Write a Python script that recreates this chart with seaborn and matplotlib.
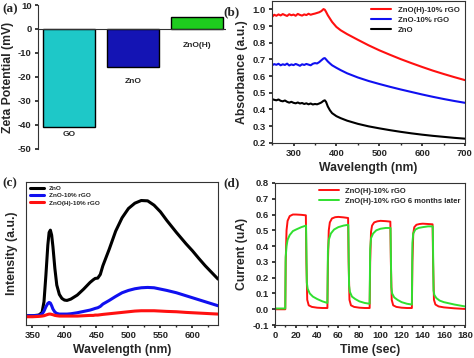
import matplotlib
matplotlib.use("Agg")
import matplotlib.pyplot as plt
import numpy as np
import pandas as pd
import seaborn as sns

# (a) zeta potential
zeta_names = ["GO", "ZnO", "ZnO(H)"]
zeta_values = [-41, -16, 5]
zeta_colors = ["#1EC8C8", "#1414B4", "#1ECC1E"]

# (b) UV-vis absorbance
abs_wl = [250, 255, 260, 265, 270, 275, 280, 285, 290, 295, 300, 305, 310, 315, 320, 325, 330,
          335, 340, 345, 350, 355, 360, 365, 370, 373, 376, 380, 385, 390, 400, 410, 425,
          450, 475, 500, 525, 550, 575, 600, 625, 650, 675, 700]
abs_red = [0.955, 0.968, 0.962, 0.970, 0.964, 0.972, 0.966, 0.961, 0.971, 0.965, 0.969, 0.962, 0.973,
           0.967, 0.963, 0.970, 0.966, 0.974, 0.968, 0.972, 0.975, 0.979, 0.983, 0.990, 1.002,
           0.998, 0.985, 0.965, 0.945, 0.925, 0.895, 0.875, 0.852,
           0.818, 0.785, 0.755, 0.728, 0.702, 0.678, 0.655, 0.633, 0.613, 0.594, 0.576]
abs_blue = [0.665, 0.672, 0.668, 0.674, 0.665, 0.671, 0.667, 0.675, 0.664, 0.670, 0.666, 0.673, 0.668,
            0.662, 0.671, 0.667, 0.673, 0.669, 0.665, 0.674, 0.678, 0.676, 0.684, 0.695, 0.706,
            0.708, 0.700, 0.688, 0.676, 0.665, 0.650, 0.636, 0.617,
            0.592, 0.571, 0.553, 0.536, 0.520, 0.505, 0.490, 0.476, 0.463, 0.451, 0.440]
abs_black = [0.462, 0.458, 0.455, 0.460, 0.452, 0.449, 0.454, 0.446, 0.441, 0.446, 0.440, 0.437, 0.442,
             0.436, 0.439, 0.433, 0.437, 0.431, 0.436, 0.430, 0.433, 0.431, 0.436, 0.442, 0.452,
             0.455, 0.445, 0.418, 0.395, 0.378, 0.360, 0.348, 0.333,
             0.314, 0.299, 0.287, 0.276, 0.266, 0.257, 0.249, 0.242, 0.236, 0.230, 0.225]

# (c) photoluminescence
pl_wl = [340, 350, 360, 365, 368, 371, 374, 376, 378, 380, 382, 385, 388, 392, 396, 400, 404,
         410, 420, 430, 440, 445, 448, 452, 456, 460, 470, 480, 490, 500, 510, 520, 530,
         540, 550, 560, 575, 590, 600, 610, 620, 630, 640]
pl_zno = [28, 28, 30, 38, 70, 150, 240, 278, 285, 270, 235, 170, 120, 92, 80, 75, 74,
          78, 90, 108, 128, 136, 140, 141, 152, 178, 228, 282, 322, 350, 366, 374, 373,
          360, 340, 314, 278, 244, 223, 200, 178, 158, 138]
pl_zno_rgo = [28, 28, 29, 33, 42, 55, 65, 68, 66, 58, 48, 39, 35, 33, 33, 33, 33,
              34, 37, 41, 45, 48, 50, 52, 56, 63, 74, 86, 97, 104, 109, 112, 113,
              112, 108, 104, 97, 88, 82, 76, 70, 64, 58]
pl_znoh_rgo = [25, 25, 26, 27, 28, 30, 32, 33, 33, 32, 31, 29, 28, 27, 27, 27, 27,
               27, 27, 28, 29, 29, 30, 30, 31, 32, 34, 36, 38, 40, 42, 43, 43,
               43, 42, 41, 40, 38, 37, 36, 35, 34, 33]

# (d) photocurrent switching
t_fresh = [0, 9.8, 10.2, 11, 12, 14, 17, 20, 25, 29.3, 29.8, 30.6, 32, 35, 40, 45, 49.7,
           50.2, 51, 52, 54, 57, 60, 65, 69.3, 69.8, 70.6, 72, 75, 80, 85, 89.7,
           90.2, 91, 92, 94, 97, 100, 105, 109.3, 109.8, 110.6, 112, 115, 120, 125, 129.7,
           130.2, 131, 132, 134, 137, 140, 145, 149.3, 149.8, 150.6, 152, 155, 160, 170, 180]
i_fresh = [0.0, 0.0, 0.30, 0.50, 0.56, 0.59, 0.600, 0.600, 0.598, 0.595, 0.30, 0.06, 0.025, 0.015, 0.010, 0.008, 0.008,
           0.30, 0.50, 0.55, 0.575, 0.583, 0.585, 0.582, 0.578, 0.30, 0.06, 0.025, 0.015, 0.010, 0.008, 0.008,
           0.30, 0.49, 0.53, 0.550, 0.557, 0.560, 0.558, 0.555, 0.30, 0.06, 0.025, 0.015, 0.010, 0.008, 0.008,
           0.30, 0.48, 0.52, 0.535, 0.540, 0.542, 0.540, 0.538, 0.30, 0.06, 0.030, 0.018, 0.012, 0.006, 0.002]
t_aged = [0, 9.8, 10.2, 11, 12, 14, 17, 20, 25, 29.5, 30.2, 31, 33, 36, 40, 45, 49.7,
          50.2, 51, 53, 56, 60, 65, 69.5, 70.2, 71, 73, 76, 80, 85, 89.7,
          90.2, 91, 93, 96, 100, 105, 109.5, 110.2, 111, 113, 116, 120, 125, 129.7,
          130.2, 131, 133, 136, 140, 145, 149.5, 150.2, 151, 153, 156, 160, 170, 180]
i_aged = [0.005, 0.005, 0.33, 0.40, 0.44, 0.47, 0.495, 0.505, 0.520, 0.530, 0.17, 0.13, 0.10, 0.08, 0.065, 0.05, 0.040,
          0.37, 0.44, 0.48, 0.505, 0.52, 0.53, 0.535, 0.15, 0.11, 0.08, 0.065, 0.05, 0.04, 0.035,
          0.38, 0.45, 0.48, 0.50, 0.51, 0.515, 0.515, 0.14, 0.10, 0.075, 0.06, 0.045, 0.035, 0.030,
          0.42, 0.48, 0.505, 0.515, 0.52, 0.525, 0.525, 0.12, 0.09, 0.07, 0.055, 0.045, 0.03, 0.018]

sns.set_theme(style="ticks")
plt.rcParams.update({
    "font.family": ["Liberation Sans", "DejaVu Sans"],
    "font.weight": "bold",
    "axes.labelweight": "bold",
    "axes.labelsize": 8.8,
    "xtick.labelsize": 6.8,
    "ytick.labelsize": 6.8,
    "xtick.direction": "out",
    "ytick.direction": "out",
    "xtick.major.size": 2.5,
    "ytick.major.size": 2.5,
    "xtick.minor.size": 1.3,
    "ytick.minor.size": 1.3,
    "xtick.major.pad": 2,
    "ytick.major.pad": 2,
    "axes.linewidth": 0.8,
    "axes.edgecolor": "#333333",
    "axes.unicode_minus": False,
})

fig = plt.figure(figsize=(4.74, 3.58), dpi=100)
ax_a = fig.add_axes([0.080, 0.584, 0.397, 0.402])
ax_b = fig.add_axes([0.574, 0.601, 0.407, 0.396])
ax_c = fig.add_axes([0.055, 0.092, 0.405, 0.400])
ax_d = fig.add_axes([0.580, 0.092, 0.401, 0.397])

panel_font = dict(family="Liberation Serif", fontsize=9.5, fontweight="bold")

# (a)
zeta = pd.DataFrame({"sample": zeta_names, "zeta": zeta_values})
sns.barplot(data=zeta, x="sample", y="zeta", hue="sample", palette=zeta_colors, saturation=1,
            edgecolor="black", linewidth=1.0, width=0.81, legend=False, ax=ax_a)
ax_a.axhline(0, color="#333333", linewidth=0.8)
ax_a.set_ylim(-50, 10)
ax_a.set_xlim(-0.48, 2.45)
ax_a.set_yticks(range(-50, 11, 10))
ax_a.set_xticks([])
ax_a.set_xlabel("")
ax_a.set_ylabel("Zeta Potential (mV)", labelpad=3)
for side in ["top", "right", "bottom"]:
    ax_a.spines[side].set_visible(False)
for i, (name, lab_y) in enumerate(zip(zeta_names, [-44, -22, -7])):
    ax_a.text(i, lab_y, name, ha="center", va="center", fontsize=6, fontweight="bold")
fig.text(0.004, 0.975, "(a)", ha="left", va="center", **panel_font)

# (b)
uv = pd.DataFrame({"wl": abs_wl * 3,
                   "abs": abs_red + abs_blue + abs_black,
                   "sample": ["ZnO(H)-10% rGO"] * len(abs_wl) + ["ZnO-10% rGO"] * len(abs_wl) + ["ZnO"] * len(abs_wl)})
sns.lineplot(data=uv, x="wl", y="abs", hue="sample", palette=["#FF1010", "#1010F0", "black"],
             linewidth=1.5, estimator=None, sort=False, ax=ax_b)
ax_b.set_xlim(250, 700)
ax_b.set_ylim(0.2, 1.05)
ax_b.set_xticks([300, 400, 500, 600, 700])
ax_b.set_yticks(np.arange(0.2, 1.01, 0.1))
ax_b.set_yticklabels([f"{v:.1f}" for v in np.arange(0.2, 1.01, 0.1)])
ax_b.set_xticks(range(250, 701, 50), minor=True)
ax_b.set_xlabel("Wavelength (nm)", labelpad=3)
ax_b.set_ylabel("Absorbance (a.u.)", labelpad=3)
ax_b.legend(loc="upper right", frameon=False, fontsize=5.6, handlelength=2.6,
            borderaxespad=0.3, labelspacing=0.3)
fig.text(0.472, 0.967, "(b)", ha="left", va="center", **panel_font)

# (c)
pl = pd.DataFrame({"wl": pl_wl * 3,
                   "pl": pl_zno + pl_zno_rgo + pl_znoh_rgo,
                   "sample": ["ZnO"] * len(pl_wl) + ["ZnO-10% rGO"] * len(pl_wl) + ["ZnO(H)-10% rGO"] * len(pl_wl)})
sns.lineplot(data=pl, x="wl", y="pl", hue="sample", palette=["black", "#1010F0", "#FF1010"],
             linewidth=2.2, estimator=None, sort=False, ax=ax_c)
ax_c.set_xlim(340, 640)
ax_c.set_ylim(0, 430)
ax_c.set_xticks([350, 400, 450, 500, 550, 600])
ax_c.set_xticks(range(350, 641, 25), minor=True)
ax_c.set_yticks([])
ax_c.set_xlabel("Wavelength (nm)", labelpad=3)
ax_c.set_ylabel("Intensity (a.u.)", labelpad=6)
ax_c.legend(loc="upper left", frameon=False, fontsize=4.6, handlelength=2.2,
            borderaxespad=0.15, labelspacing=0.3)
fig.text(0.004, 0.487, "(c)", ha="left", va="center", **panel_font)

# (d)
pc = pd.DataFrame({"t": t_fresh + t_aged,
                   "i": i_fresh + i_aged,
                   "sample": ["ZnO(H)-10% rGO"] * len(t_fresh) + ["ZnO(H)-10% rGO 6 months later"] * len(t_aged)})
sns.lineplot(data=pc, x="t", y="i", hue="sample", palette=["#FF1010", "#30E030"],
             linewidth=1.4, estimator=None, sort=False, ax=ax_d)
ax_d.set_xlim(0, 180)
ax_d.set_ylim(-0.1, 0.8)
ax_d.set_xticks(range(0, 181, 20))
ax_d.set_xticks(range(0, 181, 10), minor=True)
ax_d.set_yticks(np.arange(-0.1, 0.81, 0.1))
ax_d.set_yticklabels([f"{v:.1f}" for v in np.arange(-0.1, 0.81, 0.1)])
ax_d.set_xlabel("Time (sec)", labelpad=3)
ax_d.set_ylabel("Current (uA)", labelpad=3)
ax_d.legend(loc="upper right", frameon=False, fontsize=5.5, handlelength=2.6,
            borderaxespad=0.2, labelspacing=0.3)
fig.text(0.472, 0.487, "(d)", ha="left", va="center", **panel_font)

fig.savefig("out.png", dpi=100)
